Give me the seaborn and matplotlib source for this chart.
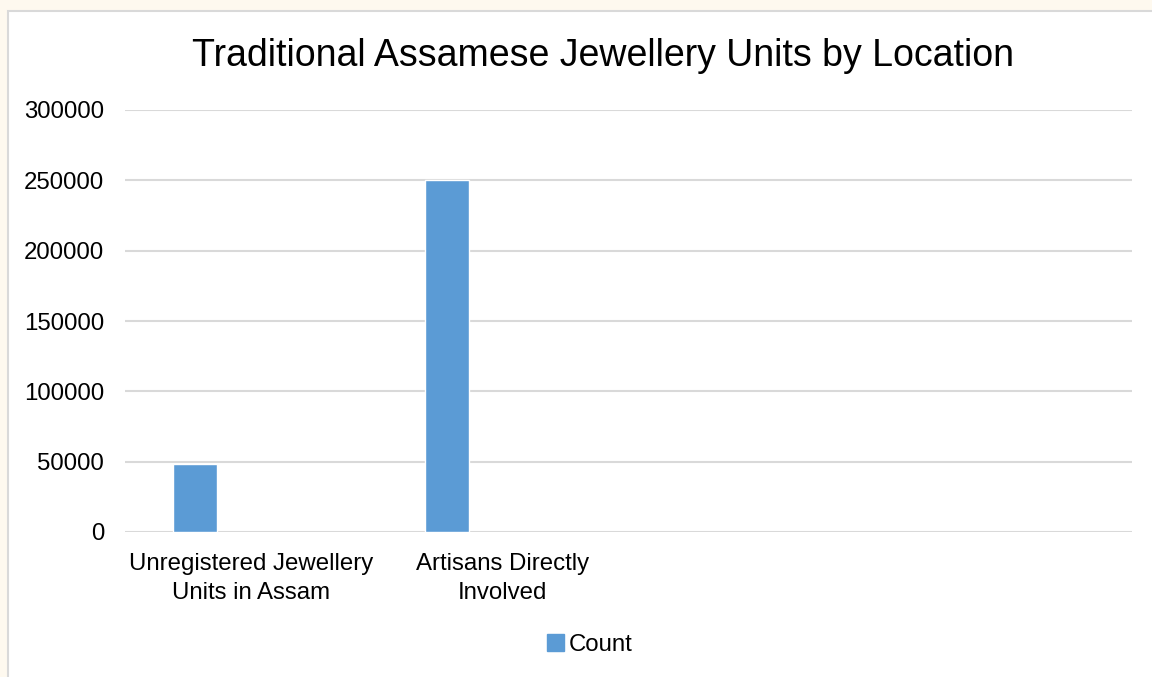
import matplotlib
matplotlib.use("Agg")
import matplotlib.pyplot as plt
import matplotlib.patches as mpatches
import seaborn as sns
import pandas as pd

# Data
categories = ["Unregistered Jewellery\nUnits in Assam", "Artisans Directly\nInvolved", " ", "  "]
count_values = [48000, 250000, None, None]
series_names = ["Count", "_blank"]

rows = []
for cat, val in zip(categories, count_values):
    rows.append({"category": cat, "series": "Count", "value": val})
    rows.append({"category": cat, "series": "_blank", "value": None})
df = pd.DataFrame(rows)

bar_color = "#5B9BD5"
grid_color = "#D9D9D9"
label_size = 17.3

sns.set_theme(style="white")
plt.rcParams['font.family'] = ['Liberation Sans', 'DejaVu Sans']
plt.rcParams['text.color'] = 'black'

fig = plt.figure(figsize=(11.52, 6.77), dpi=100)
fig.patch.set_facecolor("#FEF9EF")

# white chart area with thin grey border
fig.patches.append(mpatches.Rectangle((8 / 1152, -0.1), 1.2, 1 - 11 / 677 + 0.1,
                                      transform=fig.transFigure, facecolor="white",
                                      edgecolor="#D9D9D9", linewidth=1.5, zorder=-5))

ax = fig.add_axes([125 / 1152, 1 - 532 / 677, (1132 - 125) / 1152, (532 - 110) / 677])
ax.set_facecolor("none")
ax.set_zorder(2)

sns.barplot(data=df, x="category", y="value", hue="series", hue_order=series_names,
            order=categories, palette={"Count": bar_color, "_blank": bar_color},
            width=0.889, gap=0.606, saturation=1, errorbar=None, ax=ax, legend=False)

ax.set_xlim(-0.5, len(categories) - 0.5)
ax.set_ylim(0, 300000)
ax.set_yticks(range(0, 300001, 50000))
ax.set_yticklabels([str(v) for v in range(0, 300001, 50000)])
ax.set_xticks(range(len(categories)))
ax.set_xticklabels(categories, linespacing=1.45)
ax.yaxis.grid(True, color=grid_color, linewidth=1.5)
ax.set_axisbelow(True)
for s in ax.spines.values():
    s.set_visible(False)
ax.tick_params(axis="y", length=0, pad=15, labelsize=label_size, labelcolor="black")
ax.tick_params(axis="x", length=0, pad=15, labelsize=label_size, labelcolor="black")
ax.set_xlabel("")
ax.set_ylabel("")

fig.text(603 / 1152, 1 - 56 / 677, "Traditional Assamese Jewellery Units by Location",
         ha="center", va="center", fontsize=27, color="black")

handles = [mpatches.Patch(color=bar_color, label="Count")]
leg = fig.legend(handles=handles, loc="center", bbox_to_anchor=(590 / 1152, 1 - 645 / 677),
                 frameon=False, fontsize=label_size, handlelength=0.7, handleheight=0.7,
                 handletextpad=0.2)
for t in leg.get_texts():
    t.set_color("black")

fig.savefig("out.png", dpi=100, facecolor=fig.get_facecolor())
